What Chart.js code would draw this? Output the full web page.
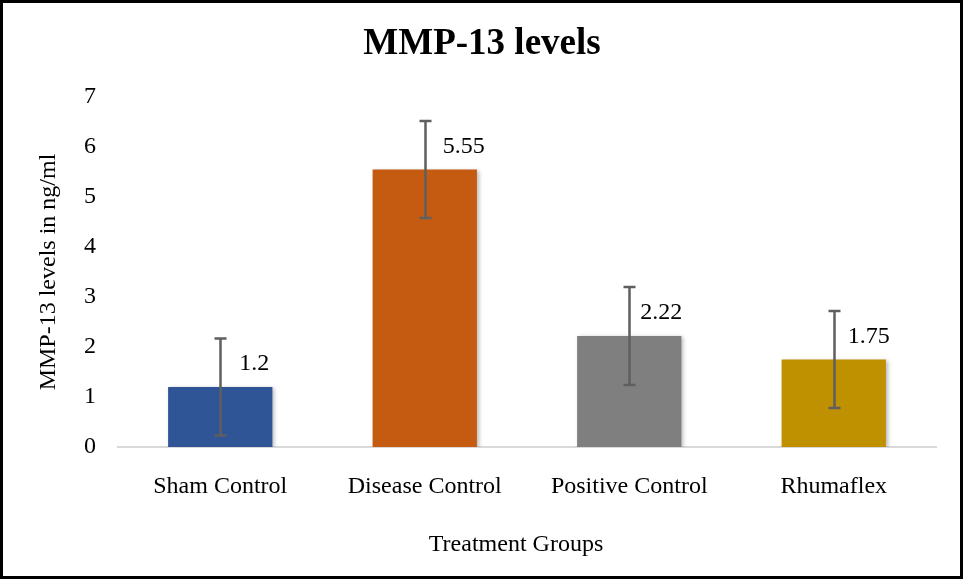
<!DOCTYPE html>
<html>
<head>
<meta charset="utf-8">
<script src="https://cdn.jsdelivr.net/npm/chart.js@4/dist/chart.umd.min.js"></script>
<style>
  html, body { margin: 0; padding: 0; background: #ffffff; }
  #c { display: block; }
</style>
</head>
<body>
<canvas id="c" width="964" height="581"></canvas>
<script>
// ---- Data ----
const categories = ['Sham Control', 'Disease Control', 'Positive Control', 'Rhumaflex'];
const values = [1.2, 5.55, 2.22, 1.75];
const errors = [0.97, 0.97, 0.98, 0.97];
const valueLabels = ['1.2', '5.55', '2.22', '1.75'];
const yTicks = [0, 1, 2, 3, 4, 5, 6, 7];
const barColors = ['#2F5597', '#C55A11', '#7F7F7F', '#BF9000'];
const xAxisTitle = 'Treatment Groups';

const SERIF = '"Liberation Serif", "Times New Roman", serif';

const shadowPlugin = {
  id: 'barShadow',
  beforeDatasetDraw(chart) {
    const ctx = chart.ctx;
    ctx.save();
    ctx.shadowColor = 'rgba(0,0,0,0.28)';
    ctx.shadowBlur = 4;
    ctx.shadowOffsetX = 2;
    ctx.shadowOffsetY = 1;
  },
  afterDatasetDraw(chart) {
    chart.ctx.restore();
  }
};

const errorBarPlugin = {
  id: 'errorBars',
  afterDatasetsDraw(chart, args, opts) {
    const ctx = chart.ctx;
    const y = chart.scales.y;
    const meta = chart.getDatasetMeta(0);
    ctx.save();
    ctx.strokeStyle = opts.color;
    ctx.lineWidth = opts.width;
    meta.data.forEach((bar, i) => {
      const x = Math.round(bar.x) + 0.5;
      const yTop = y.getPixelForValue(values[i] + errors[i]);
      const yBot = y.getPixelForValue(values[i] - errors[i]);
      ctx.beginPath();
      ctx.moveTo(x, yTop);
      ctx.lineTo(x, yBot);
      ctx.moveTo(x - opts.cap / 2, yTop);
      ctx.lineTo(x + opts.cap / 2, yTop);
      ctx.moveTo(x - opts.cap / 2, yBot);
      ctx.lineTo(x + opts.cap / 2, yBot);
      ctx.stroke();
    });
    ctx.restore();
  }
};

const valueLabelPlugin = {
  id: 'valueLabels',
  afterDatasetsDraw(chart, args, opts) {
    const ctx = chart.ctx;
    const meta = chart.getDatasetMeta(0);
    ctx.save();
    ctx.font = opts.font;
    ctx.fillStyle = opts.color;
    ctx.textAlign = 'left';
    ctx.textBaseline = 'alphabetic';
    meta.data.forEach((bar, i) => {
      ctx.fillText(valueLabels[i], bar.x + opts.dx[i], bar.y - opts.dy);
    });
    ctx.restore();
  }
};

const xTitlePlugin = {
  id: 'xTitle',
  afterDraw(chart, args, opts) {
    const ctx = chart.ctx;
    const area = chart.chartArea;
    ctx.save();
    ctx.font = opts.font;
    ctx.fillStyle = opts.color;
    ctx.textAlign = 'center';
    ctx.textBaseline = 'alphabetic';
    ctx.fillText(xAxisTitle, (area.left + area.right) / 2 + opts.dx, opts.baseline);
    ctx.restore();
  }
};

const frameBorder = {
  id: 'frameBorder',
  afterDraw(chart) {
    const ctx = chart.ctx;
    ctx.save();
    ctx.strokeStyle = '#000000';
    ctx.lineWidth = 3;
    ctx.strokeRect(1.5, 1.5, chart.width - 4, chart.height - 5);
    ctx.restore();
  }
};

new Chart(document.getElementById('c'), {
  type: 'bar',
  data: {
    labels: categories,
    datasets: [{
      data: values,
      backgroundColor: barColors,
      borderWidth: 0,
      categoryPercentage: 1.0,
      barPercentage: 0.51
    }]
  },
  options: {
    responsive: false,
    animation: false,
    devicePixelRatio: 1,
    layout: { padding: 0 },
    plugins: {
      legend: { display: false },
      tooltip: { enabled: false },
      title: {
        display: true,
        text: 'MMP-13 levels',
        color: '#000000',
        font: { family: SERIF, size: 37, weight: 'bold' },
        padding: { top: 22, bottom: 30.6 }
      },
      errorBars: { color: '#5F5F5F', width: 2.5, cap: 12 },
      valueLabels: {
        font: '24px ' + SERIF,
        color: '#000000',
        dx: [19, 18, 11, 14],
        dy: 17
      },
      xTitle: {
        font: '24px ' + SERIF,
        color: '#000000',
        dx: -11,
        baseline: 551
      }
    },
    scales: {
      x: {
        grid: { display: false, drawTicks: false },
        border: { display: true, color: '#D9D9D9', width: 2 },
        ticks: {
          color: '#000000',
          font: { family: SERIF, size: 24 },
          padding: 25,
          maxRotation: 0
        },
        title: { display: false },
        afterFit(scale) { scale.height = 581 - 447; }
      },
      y: {
        min: 0,
        max: 7,
        grid: { display: false, drawTicks: false },
        border: { display: false },
        afterBuildTicks(scale) { scale.ticks = yTicks.map(v => ({ value: v })); },
        ticks: {
          color: '#000000',
          font: { family: SERIF, size: 24 },
          padding: 22
        },
        title: {
          display: true,
          text: 'MMP-13 levels in ng/ml',
          color: '#000000',
          font: { family: SERIF, size: 24 },
          padding: { top: 34, bottom: 0 }
        },
        afterFit(scale) { scale.width = 118; }
      },
      yRight: {
        position: 'right',
        display: true,
        min: 0,
        max: 7,
        grid: { display: false, drawTicks: false },
        border: { display: false },
        ticks: { display: false },
        afterFit(scale) { scale.width = 964 - 936; }
      }
    }
  },
  plugins: [shadowPlugin, errorBarPlugin, valueLabelPlugin, xTitlePlugin, frameBorder]
});
</script>
</body>
</html>
